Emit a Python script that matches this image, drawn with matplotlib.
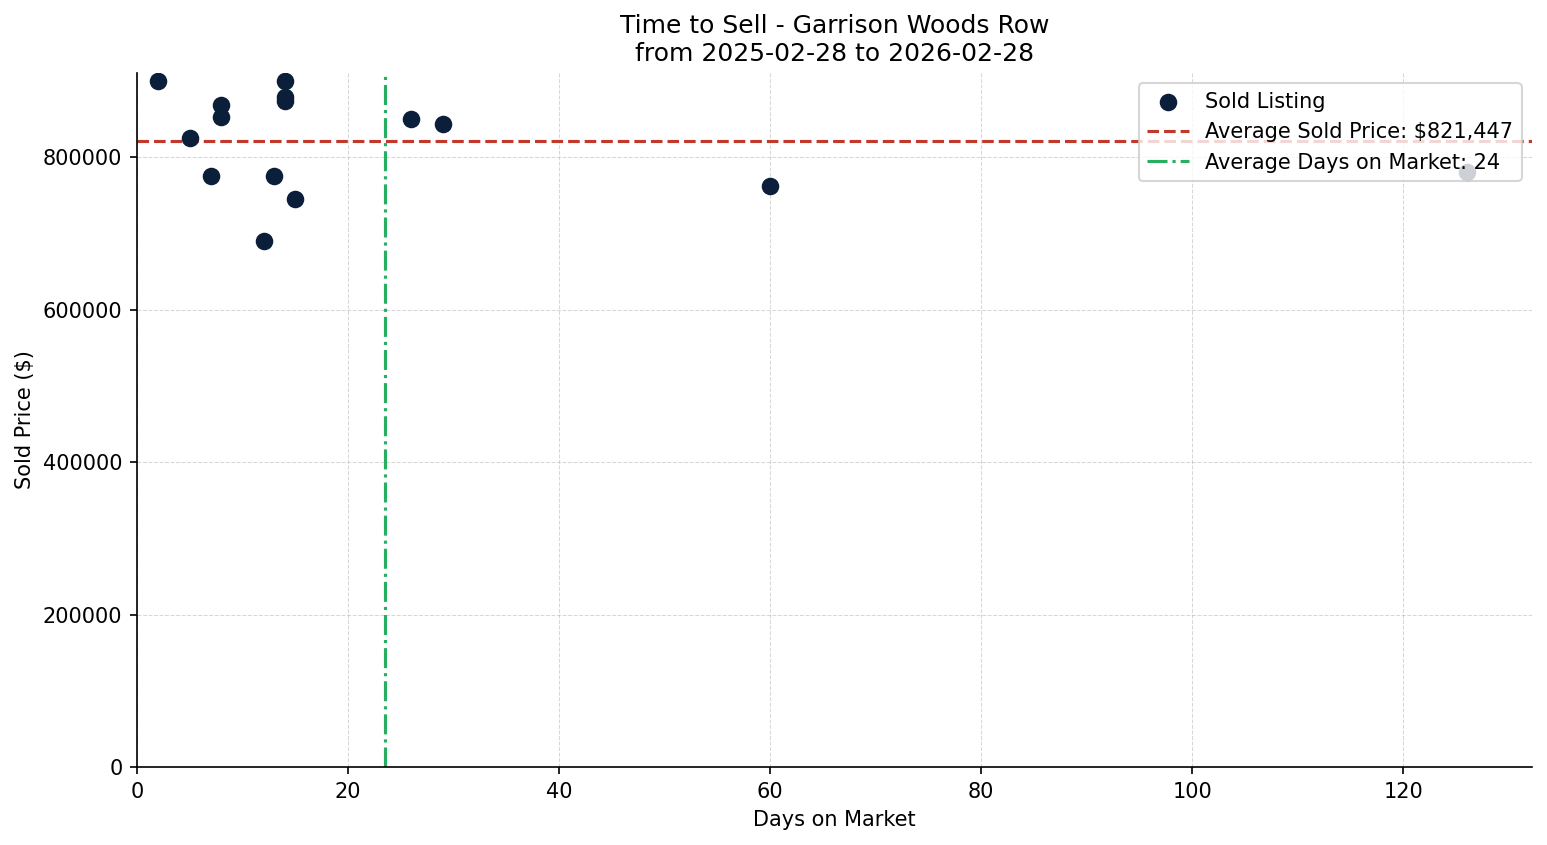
import matplotlib
matplotlib.use("Agg")
import matplotlib.pyplot as plt

days = [2, 14, 14, 14, 8, 8, 5, 7, 13, 15, 12, 26, 29, 60, 126]
prices = [900000, 900000, 879000, 874000, 868000, 853000, 825000, 776000,
          775000, 745000, 690000, 850000, 844000, 762705, 780000]

avg_price = sum(prices) / len(prices)
avg_days = sum(days) / len(days)

fig, ax = plt.subplots(figsize=(1547 / 150, 845 / 150), dpi=150)

ax.scatter(days, prices, s=55, color='#0b1f3a', label='Sold Listing', zorder=3)
ax.axhline(avg_price, color='#c0392b', linestyle='--', linewidth=1.5,
           label=f'Average Sold Price: ${avg_price:,.0f}')
ax.axvline(avg_days, color='#27ae60', linestyle='-.', linewidth=1.5,
           label=f'Average Days on Market: {avg_days:.0f}')

ax.set_xlim(left=0)
ax.set_ylim(bottom=0)
ax.ticklabel_format(style='plain', axis='y')

ax.set_title('Time to Sell - Garrison Woods Row\nfrom 2025-02-28 to 2026-02-28', fontsize=12)
ax.set_xlabel('Days on Market')
ax.set_ylabel('Sold Price ($)')
ax.grid(True, linestyle='--', linewidth=0.5, alpha=0.5)
ax.spines['top'].set_visible(False)
ax.spines['right'].set_visible(False)
ax.legend(loc='upper right')

fig.subplots_adjust(left=0.0886, right=0.9903, top=0.9136, bottom=0.0923)
plt.savefig('out.png')
